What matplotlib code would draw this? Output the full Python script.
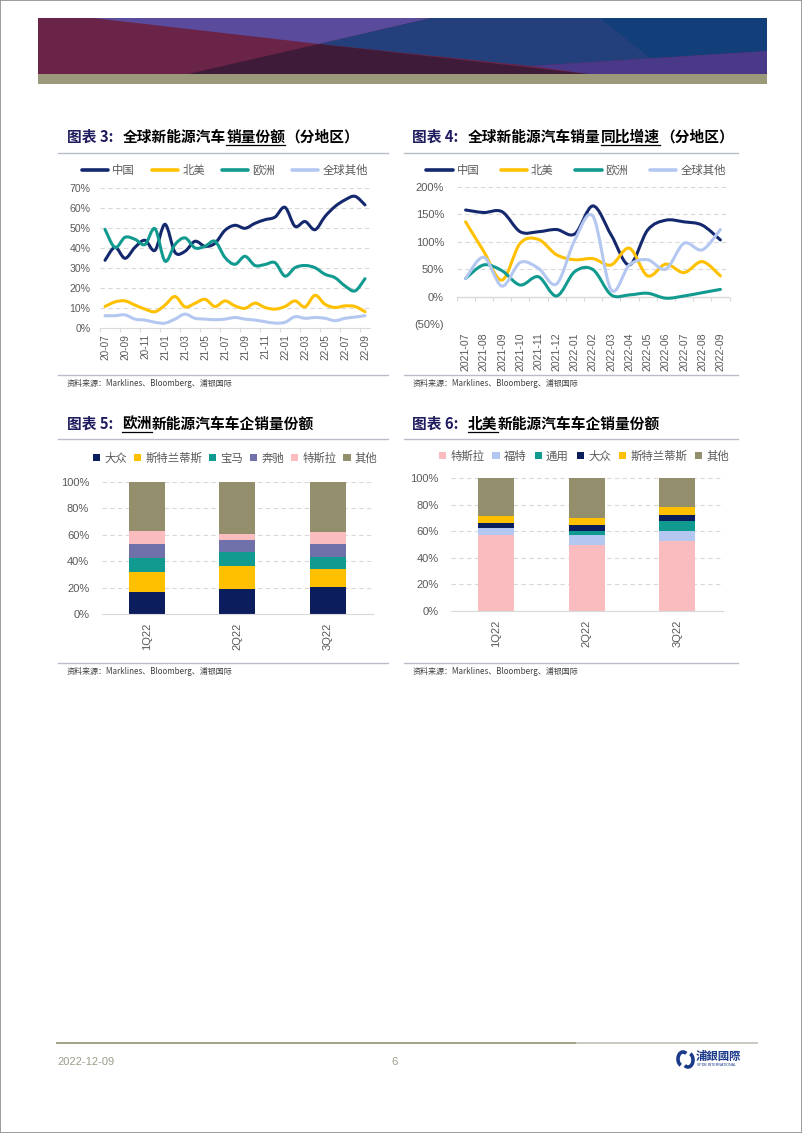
import numpy as np
import matplotlib
matplotlib.use("Agg")
import matplotlib.pyplot as plt
from matplotlib.path import Path
from matplotlib.patches import PathPatch, Polygon, Rectangle, Arc
from matplotlib.lines import Line2D
from matplotlib.ticker import FuncFormatter

W, H = 802, 1133
CJK = ['Noto Sans CJK SC', 'DejaVu Sans']
NUM = ['Liberation Sans', 'DejaVu Sans']
GRAY = '#595959'

NAVY = '#14286e'
YELLOW = '#ffc000'
TEAL = '#119a8f'
LBLUE = '#b4c7f0'
PURPLE = '#7070aa'
PINK = '#fbbcbf'
OLIVE = '#938f6c'
BARNAVY = '#0b1d5c'

# ---- 图表3 数据: 全球新能源汽车销量份额（分地区）
months3 = ['20-07', '20-08', '20-09', '20-10', '20-11', '20-12', '21-01', '21-02', '21-03',
           '21-04', '21-05', '21-06', '21-07', '21-08', '21-09', '21-10', '21-11', '21-12',
           '22-01', '22-02', '22-03', '22-04', '22-05', '22-06', '22-07', '22-08', '22-09']
china_share = [34.0, 40.5, 35.0, 40.5, 44.0, 39.0, 52.0, 38.0, 38.5, 43.5, 41.0, 42.5, 49.0, 51.5,
               50.0, 52.5, 54.3, 55.6, 60.5, 51.0, 53.4, 49.3, 55.9, 60.9, 64.2, 66.0, 61.7]
na_share = [10.9, 13.2, 13.7, 11.6, 9.6, 8.3, 11.6, 15.9, 10.7, 12.5, 14.5, 10.9, 13.7, 11.2,
            10.0, 12.6, 10.4, 9.6, 10.9, 13.7, 10.7, 16.5, 12.0, 10.4, 11.2, 10.9, 8.3]
eu_share = [49.5, 40.4, 45.5, 44.5, 41.9, 49.8, 33.6, 41.9, 45.2, 40.2, 41.0, 43.5, 35.4, 32.0,
            36.0, 31.4, 31.9, 32.8, 26.1, 30.3, 31.4, 30.3, 27.0, 25.3, 21.2, 18.7, 24.8]
other_share = [6.3, 6.3, 6.7, 4.6, 4.1, 3.0, 2.6, 4.6, 7.1, 5.0, 4.6, 4.3, 4.6, 5.4,
               4.6, 4.1, 3.3, 2.6, 3.0, 5.8, 5.0, 5.4, 5.0, 3.8, 5.0, 5.6, 6.3]

# ---- 图表4 数据: 全球新能源汽车销量同比增速（分地区）
months4 = ['2021-07', '2021-08', '2021-09', '2021-10', '2021-11', '2021-12', '2022-01', '2022-02',
           '2022-03', '2022-04', '2022-05', '2022-06', '2022-07', '2022-08', '2022-09']
china_yoy = [157.6, 153, 154.5, 118, 118, 122, 114, 165, 112, 57.6, 121, 139, 136, 130, 103]
na_yoy = [136, 82, 30, 97, 104, 76, 67, 69, 57.6, 88, 37.6, 59, 43.6, 63.6, 37.6]
eu_yoy = [33, 57.6, 47, 21, 36, 1, 45.5, 49, 3, 3, 6, -3, 1, 7, 13]
other_yoy = [33, 71.5, 19, 62, 51.5, 23, 103, 146, 12, 57.6, 67, 50, 97, 85, 122]

# ---- 图表5 数据: 欧洲新能源汽车车企销量份额
quarters = ['1Q22', '2Q22', '3Q22']
eu_brands = ['大众', '斯特兰蒂斯', '宝马', '奔驰', '特斯拉', '其他']
eu_vw = [17.0, 19.0, 20.6]
eu_stellantis = [14.7, 17.7, 13.3]
eu_bmw = [10.5, 10.5, 9.6]
eu_benz = [10.6, 9.1, 9.3]
eu_tesla = [10.0, 4.3, 9.0]
eu_other = [37.2, 39.4, 38.2]

# ---- 图表6 数据: 北美新能源汽车车企销量份额
na_brands = ['特斯拉', '福特', '通用', '大众', '斯特兰蒂斯', '其他']
na_tesla = [57.3, 49.7, 52.3]
na_ford = [5.0, 7.6, 8.0]
na_gm = [0.4, 3.0, 7.0]
na_vw = [3.6, 4.0, 5.1]
na_stellantis = [4.8, 5.5, 5.5]
na_other = [28.9, 30.2, 22.1]

source_text = '资料来源：Marklines、Bloomberg、浦银国际'


def rect(x0, y0, x1, y1):
    return [x0 / W, 1 - y1 / H, (x1 - x0) / W, (y1 - y0) / H]


def fx(x):
    return x / W


def fy(y):
    return 1 - y / H


fig = plt.figure(figsize=(W / 100, H / 100), dpi=100)
renderer = fig.canvas.get_renderer()

# 页面边框
fig.add_artist(Rectangle((0, 0), 1, 1, transform=fig.transFigure, fill=False,
                         edgecolor='#8c8c8c', lw=1.2))

# ---- 顶部横幅
def poly(pts, color):
    fig.add_artist(Polygon([(fx(x), fy(y)) for x, y in pts], closed=True,
                           transform=fig.transFigure, facecolor=color, edgecolor='none'))

poly([(38, 18), (767, 18), (767, 74), (38, 74)], '#6a2447')
poly([(93, 18), (431, 18), (319, 44)], '#5b4b9c')
poly([(431, 18), (767, 18), (767, 51), (531, 66), (319, 44)], '#23407d')
poly([(600, 18), (767, 18), (767, 51), (650, 58)], '#123f79')
poly([(531, 66), (767, 51), (767, 74), (588, 74)], '#4a3888')
poly([(188, 74), (319, 44), (588, 74)], '#3e1b38')
poly([(38, 74), (767, 74), (767, 84), (38, 84)], '#9b9979')


# ---- 标题
def draw_title(x_tag, x_body, y, num, pieces):
    fig.text(fx(x_tag), fy(y), '图表 ' + num + ':', color='#1e1b5e', fontsize=10.6,
             fontweight='bold', family=CJK, va='center')
    cur = x_body
    for txt, ul in pieces:
        t = fig.text(fx(cur), fy(y), txt, color='black', fontsize=10.6, fontweight='bold',
                     family=CJK, va='center')
        bb = t.get_window_extent(renderer)
        if ul:
            fig.add_artist(Line2D([bb.x0 / W, bb.x1 / W], [fy(y + 7.5), fy(y + 7.5)],
                                  transform=fig.transFigure, color='black', lw=0.9))
        cur = bb.x1


def frame_lines(x0, x1, y_top, y_src):
    for yy in (y_top, y_src):
        fig.add_artist(Line2D([fx(x0), fx(x1)], [fy(yy), fy(yy)], transform=fig.transFigure,
                              color='#b9bdc9', lw=1.0))
    fig.text(fx(x0 + 9), fy(y_src + 8), source_text, fontsize=5.8, color='#404040',
             family=CJK, va='center')


draw_title(67, 123, 137, '3', [('全球新能源汽车', False), ('销量份额', True), ('（分地区）', False)])
draw_title(412, 468, 137, '4', [('全球新能源汽车销量', False), ('同比增速', True), ('（分地区）', False)])
draw_title(67, 122, 424, '5', [('欧洲', True), ('新能源汽车车企销量份额', False)])
draw_title(412, 468, 424, '6', [('北美', True), ('新能源汽车车企销量份额', False)])

frame_lines(58, 388, 152.5, 375)
frame_lines(404, 738, 152.5, 375)
frame_lines(58, 388, 439, 663)
frame_lines(404, 738, 439, 663)


# ---- 平滑曲线
def smooth_line(ax, xs, ys, color, lw=2.2):
    pts = np.column_stack([xs, ys]).astype(float)
    n = len(pts)
    verts = [pts[0]]
    codes = [Path.MOVETO]
    for i in range(n - 1):
        p0 = pts[i - 1] if i > 0 else pts[i]
        p1 = pts[i]
        p2 = pts[i + 1]
        p3 = pts[i + 2] if i + 2 < n else pts[i + 1]
        verts += [p1 + (p2 - p0) / 6, p2 - (p3 - p1) / 6, p2]
        codes += [Path.CURVE4] * 3
    ax.add_patch(PathPatch(Path(verts, codes), facecolor='none', edgecolor=color, lw=lw,
                           capstyle='round', joinstyle='round'))


def style_axes(ax, ysize=7.8):
    for s in ['left', 'right', 'top']:
        ax.spines[s].set_visible(False)
    ax.spines['bottom'].set_color('#d9d9d9')
    ax.tick_params(axis='y', length=0, labelsize=ysize, labelcolor=GRAY)
    ax.set_facecolor('none')
    for lab in ax.get_yticklabels():
        lab.set_family(NUM)


def hgrid(ax, levels):
    for v in levels:
        ax.axhline(v, color='#d9d9d9', lw=0.8, ls=(0, (4, 3)), zorder=0)


line_colors = [NAVY, YELLOW, TEAL, LBLUE]
region_names = ['中国', '北美', '欧洲', '全球其他']


def line_legend(cx, cy, spacing):
    handles = [Line2D([], [], color=c, lw=2.6, solid_capstyle='round') for c in line_colors]
    fig.legend(handles, region_names, loc='center', bbox_to_anchor=(fx(cx), fy(cy)), ncol=4,
               frameon=False, handlelength=2.3, handletextpad=0.35, columnspacing=spacing,
               prop={'family': CJK, 'size': 8.2}, labelcolor=GRAY)


# ---- 图表3
ax3 = fig.add_axes(rect(100, 188.3, 370, 328.3))
x3 = np.arange(len(months3))
hgrid(ax3, range(10, 71, 10))
for ys, c in zip([china_share, na_share, eu_share, other_share], line_colors):
    smooth_line(ax3, x3, ys, c)
ax3.set_xlim(-0.5, len(months3) - 0.5)
ax3.set_ylim(0, 70)
ax3.set_yticks(range(0, 71, 10))
ax3.yaxis.set_major_formatter(FuncFormatter(lambda v, p: f'{v:.0f}%'))
ax3.tick_params(axis='y', pad=7)
ax3.set_xticks(np.arange(-0.5, len(months3) - 0.5, 2))
ax3.set_xticks(x3[::2], minor=True)
ax3.set_xticklabels([], minor=False)
ax3.set_xticklabels(months3[::2], minor=True, rotation=90, fontsize=7.2, color=GRAY, family=NUM)
ax3.tick_params(axis='x', which='major', length=3, color='#d9d9d9')
ax3.tick_params(axis='x', which='minor', length=0, pad=4)
style_axes(ax3, 7.6)
line_legend(225, 170, 1.5)

# ---- 图表4
ax4 = fig.add_axes(rect(456.5, 186.7, 729.5, 324))
x4 = np.arange(len(months4))
hgrid(ax4, [-50, 50, 100, 150, 200])
ax4.axhline(0, color='#d9d9d9', lw=1.0, zorder=0.5)
for ys, c in zip([china_yoy, na_yoy, eu_yoy, other_yoy], line_colors):
    smooth_line(ax4, x4, ys, c)
ax4.set_xlim(-0.5, len(months4) - 0.5)
ax4.set_ylim(-50, 200)
ax4.set_yticks(range(-50, 201, 50))
ax4.yaxis.set_major_formatter(FuncFormatter(lambda v, p: f'({-v:.0f}%)' if v < 0 else f'{v:.0f}%'))
ax4.tick_params(axis='y', pad=9)
ax4.set_xticks(x4)
ax4.set_xticklabels(months4, rotation=90, fontsize=7.6, color=GRAY, family=NUM)
ax4.tick_params(axis='x', length=0, pad=6)
style_axes(ax4, 8.0)
ax4.spines['bottom'].set_visible(False)
sec = ax4.secondary_xaxis(0.2)
sec.set_xticks(np.arange(-0.5, len(months4), 1))
sec.set_xticklabels([])
sec.tick_params(axis='x', length=3, color='#d9d9d9', direction='out')
sec.spines['bottom'].set_visible(False)
line_legend(576, 170, 1.9)


# ---- 堆积柱状图
def stacked(ax, series, colors):
    xq = np.arange(len(quarters))
    bottom = np.zeros(len(quarters))
    for vals, c in zip(series, colors):
        ax.bar(xq, vals, bottom=bottom, width=0.4, color=c, zorder=2)
        bottom += np.array(vals)
    hgrid(ax, range(20, 101, 20))
    ax.set_xlim(-0.5, 2.5)
    ax.set_ylim(0, 100)
    ax.set_yticks(range(0, 101, 20))
    ax.yaxis.set_major_formatter(FuncFormatter(lambda v, p: f'{v:.0f}%'))
    ax.tick_params(axis='y', pad=9)
    ax.set_xticks(xq)
    ax.set_xticklabels(quarters, rotation=90, fontsize=8.0, color=GRAY, family=NUM)
    ax.tick_params(axis='x', length=0, pad=6)
    style_axes(ax, 8.0)


def bar_legend(names, colors, cx, cy, spacing):
    handles = [Rectangle((0, 0), 1, 1, facecolor=c) for c in colors]
    fig.legend(handles, names, loc='center', bbox_to_anchor=(fx(cx), fy(cy)), ncol=6,
               frameon=False, handlelength=0.65, handleheight=0.65, handletextpad=0.35,
               columnspacing=spacing, prop={'family': CJK, 'size': 8.2}, labelcolor=GRAY)


ax5 = fig.add_axes(rect(101.7, 481.7, 373, 614.3))
eu_colors = [BARNAVY, YELLOW, TEAL, PURPLE, PINK, OLIVE]
stacked(ax5, [eu_vw, eu_stellantis, eu_bmw, eu_benz, eu_tesla, eu_other], eu_colors)
bar_legend(eu_brands, eu_colors, 235, 458, 0.6)

ax6 = fig.add_axes(rect(451, 478, 722.5, 611))
na_colors = [PINK, LBLUE, TEAL, BARNAVY, YELLOW, OLIVE]
stacked(ax6, [na_tesla, na_ford, na_gm, na_vw, na_stellantis, na_other], na_colors)
bar_legend(na_brands, na_colors, 584, 456, 0.7)

# ---- 页脚
fig.add_artist(Line2D([fx(57), fx(577)], [fy(1043), fy(1043)], transform=fig.transFigure,
                      color='#a3a185', lw=1.4))
fig.add_artist(Line2D([fx(577), fx(757)], [fy(1043), fy(1043)], transform=fig.transFigure,
                      color='#c9c9c2', lw=1.4))
fig.text(fx(57), fy(1062), '2022-12-09', fontsize=8, color='#9c9c8c',
         family=['Liberation Sans Narrow', 'Liberation Sans'], va='center')
fig.text(fx(395), fy(1062), '6', fontsize=8, color='#9c9c8c',
         family=['Liberation Sans Narrow', 'Liberation Sans'], va='center', ha='center')

logo = fig.add_axes(rect(676, 1049, 696, 1070))
logo.set_xlim(0, 20)
logo.set_ylim(0, 21)
logo.axis('off')
logo.add_patch(Arc((7, 11), 10, 14, theta1=60, theta2=250, color='#1b3a8a', lw=2.6))
logo.add_patch(Arc((12, 10), 10, 14, theta1=240, theta2=70, color='#1b3a8a', lw=2.6))
fig.text(fx(696), fy(1056), '浦銀國際', fontsize=8.2, fontweight='bold', color='#1b3a8a',
         family=CJK, va='center')
fig.text(fx(697), fy(1065), 'SPDB INTERNATIONAL', fontsize=2.6, color='#1b3a8a',
         family=NUM, va='center')

fig.savefig('out.png', dpi=100)
